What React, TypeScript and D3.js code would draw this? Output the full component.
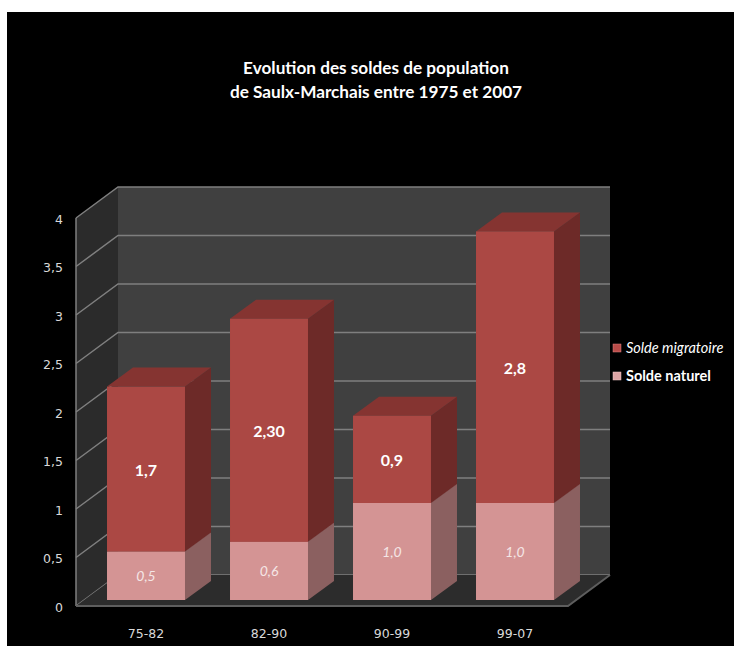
import React from "react";
import * as d3 from "d3";

const categories = ["75-82", "82-90", "90-99", "99-07"];
const soldeNaturel = [0.5, 0.6, 1.0, 1.0];
const soldeMigratoire = [1.7, 2.3, 0.9, 2.8];
const naturelLabels = ["0,5", "0,6", "1,0", "1,0"];
const migratoireLabels = ["1,7", "2,30", "0,9", "2,8"];
const yTicks = [0, 0.5, 1, 1.5, 2, 2.5, 3, 3.5, 4];
const yTickLabels = ["0", "0,5", "1", "1,5", "2", "2,5", "3", "3,5", "4"];
const titleLines = ["Evolution des soldes de population", "de Saulx-Marchais entre 1975 et 2007"];

const W = 734;
const H = 646;
// plot geometry
const X0 = 76, X1 = 568;
const Y0 = 606, Y1 = 218;
const DX = 42, DY = -31; // wall depth
const BDX = 26, BDY = -19; // bar depth
const OFX = 8.5, OFY = -6; // bar front offset from floor front

const C = {
  backWall: "#404040",
  leftWall: "#2b2b2b",
  floor: "#2c2c2c",
  grid: "#7f7f7f",
  migFront: "#ab4844",
  migSide: "#6d2a28",
  migTop: "#853431",
  natFront: "#d49494",
  natSide: "#8b6060",
  natTop: "#b07a7a",
};

export default function App() {
  const x = d3.scaleBand<string>().domain(categories).range([X0, X1]).paddingInner(0.366).paddingOuter(0.183);
  const y = d3.scaleLinear().domain([0, 4]).range([Y0, Y1]);
  const bw = x.bandwidth();

  const poly = (pts: [number, number][]) => pts.map((p) => p.join(",")).join(" ");

  const box = (key: string, x0: number, yb: number, yt: number, front: string, side: string, top: string | null) => {
    const x1 = x0 + bw;
    return (
      <g key={key}>
        <polygon points={poly([[x1, yb], [x1 + BDX, yb + BDY], [x1 + BDX, yt + BDY], [x1, yt]])} fill={side} />
        {top && <polygon points={poly([[x0, yt], [x0 + BDX, yt + BDY], [x1 + BDX, yt + BDY], [x1, yt]])} fill={top} />}
        <rect x={x0} y={yt} width={bw} height={yb - yt} fill={front} />
      </g>
    );
  };

  return (
    <svg width={W} height={H} style={{ position: "absolute", left: 0, top: 0 }} xmlns="http://www.w3.org/2000/svg">
      <rect x={0} y={0} width={W} height={H} fill="#ffffff" />
      <rect x={7} y={12} width={W - 7} height={H - 12} fill="#000000" />
      {/* title */}
      <g fontFamily="Lato, 'Open Sans', sans-serif" fontWeight="bold" fontSize={17.2} fill="#ffffff" textAnchor="middle">
        {titleLines.map((t, i) => (
          <text key={i} x={376} y={74 + i * 24}>{t}</text>
        ))}
      </g>
      {/* walls */}
      <polygon points={poly([[X0 + DX, Y0 + DY], [X1 + DX, Y0 + DY], [X1 + DX, Y1 + DY], [X0 + DX, Y1 + DY]])} fill={C.backWall} />
      <polygon points={poly([[X0, Y0], [X0 + DX, Y0 + DY], [X0 + DX, Y1 + DY], [X0, Y1]])} fill={C.leftWall} />
      {/* gridlines */}
      {yTicks.map((t) => (
        <g key={t} stroke={C.grid} strokeWidth={1.5} fill="none">
          <polyline points={poly([[X0, y(t)], [X0 + DX, y(t) + DY], [X1 + DX, y(t) + DY]])} />
        </g>
      ))}
      <line x1={X0} y1={Y1} x2={X0} y2={Y0} stroke={C.grid} strokeWidth={1.5} />
      {/* floor */}
      <polygon points={poly([[X0, Y0], [X1, Y0], [X1 + DX, Y0 + DY], [X0 + DX, Y0 + DY]])} fill={C.floor} />
      <polyline points={poly([[X0, Y0], [X1, Y0], [X1 + DX, Y0 + DY]])} stroke="#5e5e5e" strokeWidth={2} fill="none" />
      {/* bars */}
      {categories.map((c, i) => {
        const x0 = (x(c) as number) + OFX;
        const yb = y(0) + OFY;
        const yn = y(soldeNaturel[i]) + OFY;
        const ym = y(soldeNaturel[i] + soldeMigratoire[i]) + OFY;
        return (
          <g key={c}>
            {box("n", x0, yb, yn, C.natFront, C.natSide, C.natTop)}
            {box("m", x0, yn, ym, C.migFront, C.migSide, C.migTop)}
          </g>
        );
      })}
      {/* data labels */}
      {categories.map((c, i) => {
        const cx = (x(c) as number) + OFX + bw / 2;
        const yb = y(0) + OFY;
        const yn = y(soldeNaturel[i]) + OFY;
        const ym = y(soldeNaturel[i] + soldeMigratoire[i]) + OFY;
        return (
          <g key={c} fontFamily="Lato, 'Open Sans', sans-serif" fill="#ffffff" textAnchor="middle" dominantBaseline="central">
            <text x={cx} y={(yn + ym) / 2} fontWeight="bold" fontSize={16}>{migratoireLabels[i]}</text>
            <text x={cx} y={(yb + yn) / 2} fontStyle="italic" fontSize={14} fill="#f4e6e6">{naturelLabels[i]}</text>
          </g>
        );
      })}
      {/* y tick labels */}
      <g fontFamily="'DejaVu Sans', sans-serif" fontSize={12.5} fill="#d9d9d9" textAnchor="end" dominantBaseline="central">
        {yTicks.map((t, i) => (
          <text key={t} x={63} y={y(t) + 1}>{yTickLabels[i]}</text>
        ))}
      </g>
      {/* category labels */}
      <g fontFamily="'DejaVu Sans', sans-serif" fontSize={12.5} fill="#d9d9d9" textAnchor="middle">
        {categories.map((c) => (
          <text key={c} x={(x(c) as number) + OFX + bw / 2} y={638}>{c}</text>
        ))}
      </g>
      {/* legend */}
      <g fontFamily="Lato, 'Open Sans', sans-serif" fontSize={14.5} fill="#ffffff">
        <rect x={613} y={344} width={8} height={8} fill="#b94c49" stroke="#e08080" strokeWidth={0.5} />
        <text x={626} y={353} fontStyle="italic">Solde migratoire</text>
        <rect x={613} y={372} width={8} height={8} fill="#dca4a4" stroke="#f0c8c8" strokeWidth={0.5} />
        <text x={626} y={381} fontWeight="bold">Solde naturel</text>
      </g>
    </svg>
  );
}
